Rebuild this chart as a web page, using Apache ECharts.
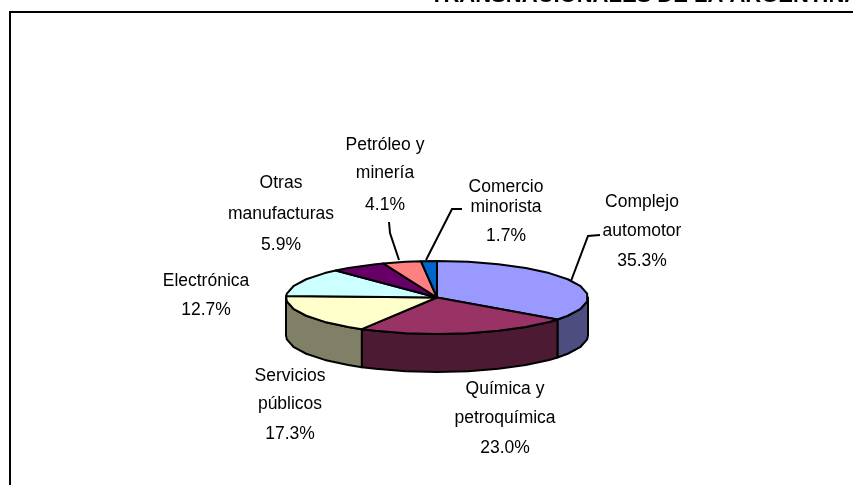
<!DOCTYPE html>
<html><head><meta charset="utf-8">
<style>html,body{margin:0;padding:0;background:#fff}#c{width:853px;height:485px}</style>
<script src="https://cdn.jsdelivr.net/npm/echarts@6/dist/echarts.min.js"></script>
</head><body><div id="c"></div>
<script>
const categories = ['Complejo automotor','Química y petroquímica','Servicios públicos','Electrónica','Otras manufacturas','Petróleo y minería','Comercio minorista'];
const values = [35.3,23.0,17.3,12.7,5.9,4.1,1.7];
const labelLines = [['Complejo','automotor','35.3%'],['Química y','petroquímica','23.0%'],['Servicios','públicos','17.3%'],['Electrónica','12.7%'],['Otras','manufacturas','5.9%'],['Petróleo y','minería','4.1%'],['Comercio','minorista','1.7%']];
const topColors = ['#9999ff','#993366','#ffffcc','#ccffff','#660066','#ff8080','#0066cc'];
const sideColors = ['#4d4d80','#4d1a33','#808066','#668080','#330033','#804040','#003366'];
const titleText = 'TRANSNACIONALES DE LA ARGENTINA';

const C = {cx:437, cy:297.5, rx:151, ry:36.5, depth:38, step:12};
const labelPos = [
  {x:642,ys:[202,231,261]},{x:505,ys:[389,418,448]},{x:290,ys:[376,404,434]},
  {x:206,ys:[281,310]},{x:281,ys:[183,214,245]},{x:385,ys:[145,173,205]},{x:506,ys:[187,207,236]}
];
const leaders = [
  [[571,281],[588,236],[600,235]],
  null,null,null,null,
  [[399,260],[390,233],[389,222]],
  [[426,260],[452,209],[462,209]]
];
function pt(a,dy){return [C.cx+C.rx*Math.sin(a),C.cy-C.ry*Math.cos(a)+(dy||0)];}
function arc(a0,a1,dy){
  const pts=[],s=C.step*Math.PI/180;
  let k=Math.ceil(a0/s+1e-6);
  pts.push(pt(a0,dy));
  for(;k*s<a1-1e-6;k++)pts.push(pt(k*s,dy));
  pts.push(pt(a1,dy));
  return pts;
}
const total=values.reduce((a,b)=>a+b,0);
const sliceAngles=[];let acc=0;
values.forEach(v=>{sliceAngles.push([acc/total*2*Math.PI,(acc+v)/total*2*Math.PI]);acc+=v;});

function renderItem(params,api){
  const i=params.dataIndex, children=[];
  const [a0,a1]=sliceAngles[i];
  const st={stroke:'#000',lineWidth:2,lineJoin:'round'};
  const w0=Math.max(a0,Math.PI/2),w1=Math.min(a1,Math.PI*1.5);
  if(w1>w0){
    const top=arc(w0,w1,0),bot=arc(w0,w1,C.depth).reverse();
    children.push({type:'polygon',z2:1,shape:{points:top.concat(bot)},style:{fill:sideColors[i],...st}});
  }
  const poly=[[C.cx,C.cy]].concat(arc(a0,a1,0));
  children.push({type:'polygon',z2:2,shape:{points:poly},style:{fill:topColors[i],...st}});
  labelLines[i].forEach((t,j)=>children.push({type:'text',z2:5,style:{text:t,x:labelPos[i].x,y:labelPos[i].ys[j],align:'center',verticalAlign:'middle',fill:'#000',font:'17.5px "Liberation Sans", Arial, sans-serif'}}));
  if(leaders[i])children.push({type:'polyline',z2:4,shape:{points:leaders[i]},style:{fill:null,stroke:'#000',lineWidth:2}});
  return {type:'group',children};
}
const chart=echarts.init(document.getElementById('c'),null,{renderer:'canvas'});
chart.setOption({
  animation:false,backgroundColor:'#fff',
  title:{text:titleText,left:430,top:-15,padding:0,textStyle:{fontFamily:'"Liberation Sans",Arial,sans-serif',fontWeight:'bold',fontSize:22,color:'#000'}},
  graphic:[{type:'polyline',shape:{points:[[10,485],[10,12],[853,12]]},style:{fill:null,stroke:'#000',lineWidth:2}}],
  series:[{type:'custom',coordinateSystem:'none',renderItem,clip:false,
    data:values.map((v,i)=>({name:categories[i],value:v}))}]
});
</script></body></html>
